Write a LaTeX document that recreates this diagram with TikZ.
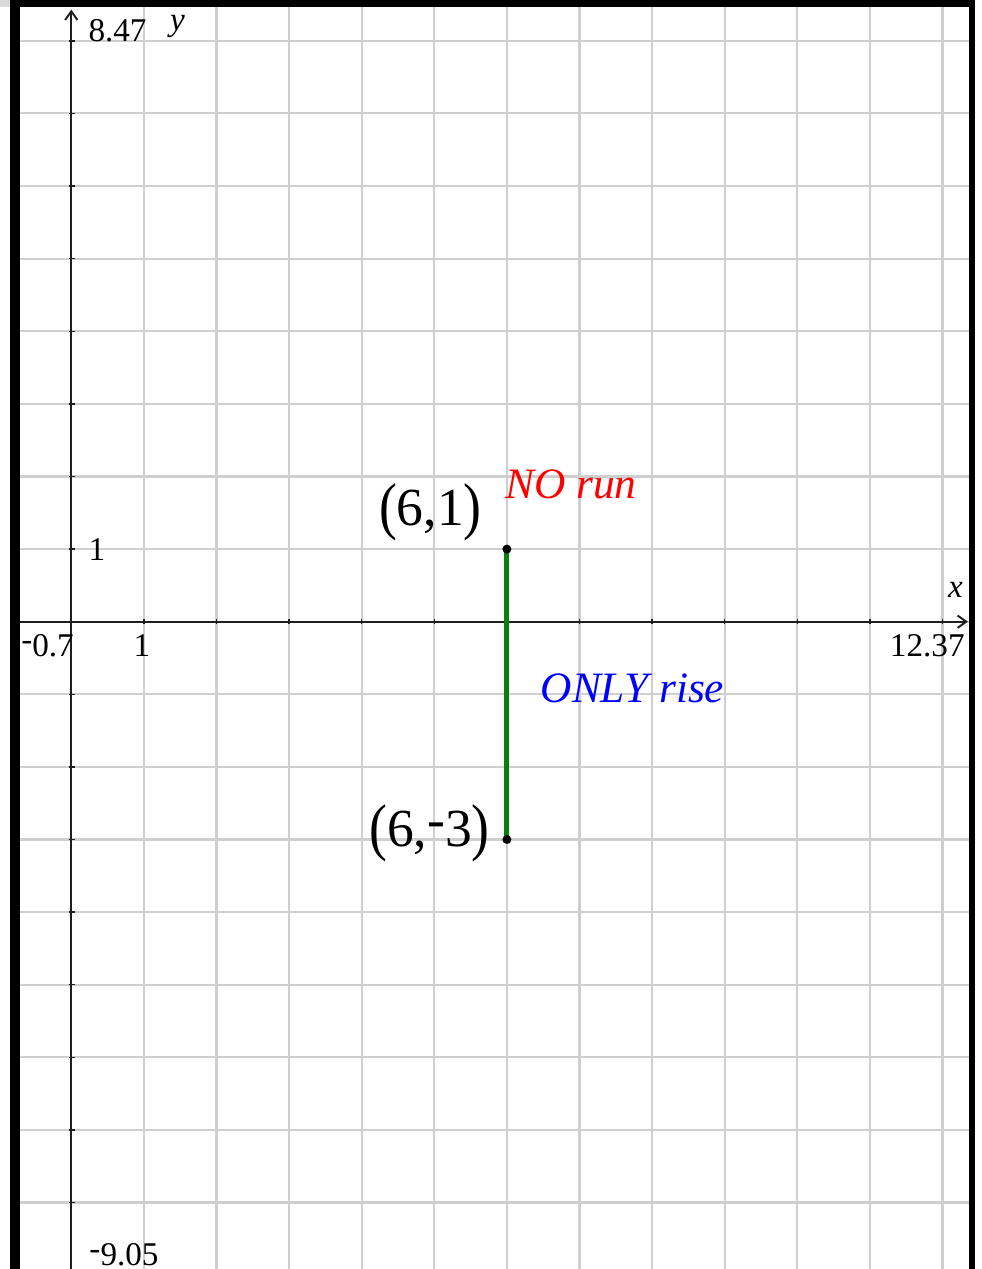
\documentclass[tikz,border=0pt]{standalone}
\usepackage{fontspec}
\setmainfont{Liberation Serif}
\usetikzlibrary{arrows.meta}
\definecolor{gridline}{HTML}{CFCFCF}
\definecolor{axisdark}{HTML}{1E1E1E}
\definecolor{segment}{HTML}{0A7F0A}
\definecolor{corner}{HTML}{D9D9D9}
\newcommand{\negs}{\raisebox{0.18em}{-}}
\newcommand{\tallparen}[1]{\raisebox{-0.04em}{\scalebox{1}[1.18]{#1}}}

\begin{document}
\begin{tikzpicture}[font=\fontsize{13}{15}\selectfont,
  axislabel/.style={inner sep=0pt},
  ptlabel/.style={font=\fontsize{21}{25}\selectfont, inner sep=0pt},
  note/.style={font=\fontsize{17}{20}\selectfont\itshape, inner sep=0pt},
  axisline/.style={axisdark, line width=0.75pt, -{Straight Barb[length=1.2mm,width=1.7mm]}}]
  \useasboundingbox (-0.982,-8.916) rectangle (12.544,8.563);
  \fill[corner] (-0.982,8.466) rectangle (-0.844,8.563);
  \foreach \x in {1,...,12} {
    \draw[gridline, line width=0.8pt] (\x,-8.916) -- (\x,8.47);
    \draw[axisdark, line width=0.5pt] (\x,-0.035) -- (\x,0.035);
  }
  \foreach \y in {-8,...,8} {
    \draw[gridline, line width=0.8pt] (-0.7,\y) -- (12.37,\y);
    \draw[axisdark, line width=0.5pt] (-0.035,\y) -- (0.05,\y);
  }
  \coordinate (xstart) at (-0.7,0);
  \coordinate (xend) at (12.35,0);
  \coordinate (ystart) at (0,-8.916);
  \coordinate (yend) at (0,8.43);
  \draw[axisline] (xstart) -- (xend);
  \draw[axisline] (ystart) -- (yend);
  \fill[black] (-0.844,8.466) rectangle (12.448,8.563);
  \fill[black] (-0.844,-8.916) rectangle (-0.707,8.563);
  \fill[black] (12.37,-8.916) rectangle (12.448,8.563);

  \node[axislabel] (ymax) at (0.637,8.14) {8.47};
  \node[axislabel] (ymin) at (0.726,-8.72) {\negs9.05};
  \node[axislabel] (xmin) at (-0.327,-0.335) {\negs0.7};
  \node[axislabel] (xmax) at (11.79,-0.335) {12.37};
  \node[axislabel] (xone) at (0.974,-0.335) {1};
  \node[axislabel] (yone) at (0.354,0.988) {1};
  \node[axislabel, font=\fontsize{13}{15}\selectfont\itshape] (xname) at (12.18,0.437) {x};
  \node[axislabel, font=\fontsize{13}{15}\selectfont\itshape] (yname) at (1.463,8.198) {y};

  \coordinate (top) at (6,1);
  \coordinate (bottom) at (6,-3);
  \draw[segment, line width=2pt] (top) -- (bottom);
  \fill (top) circle (0.062);
  \fill (bottom) circle (0.062);
  \node[ptlabel, anchor=east] (toplabel) at (5.66,1.50) {\tallparen{(}6,1\tallparen{)}};
  \node[ptlabel, anchor=east] (bottomlabel) at (5.77,-2.92) {\tallparen{(}6,\negs3\tallparen{)}};
  \node[note, text=red] (norun) at (6.88,1.89) {NO run};
  \node[note, text=blue] (onlyrise) at (7.73,-0.913) {ONLY rise};
\end{tikzpicture}
\end{document}
